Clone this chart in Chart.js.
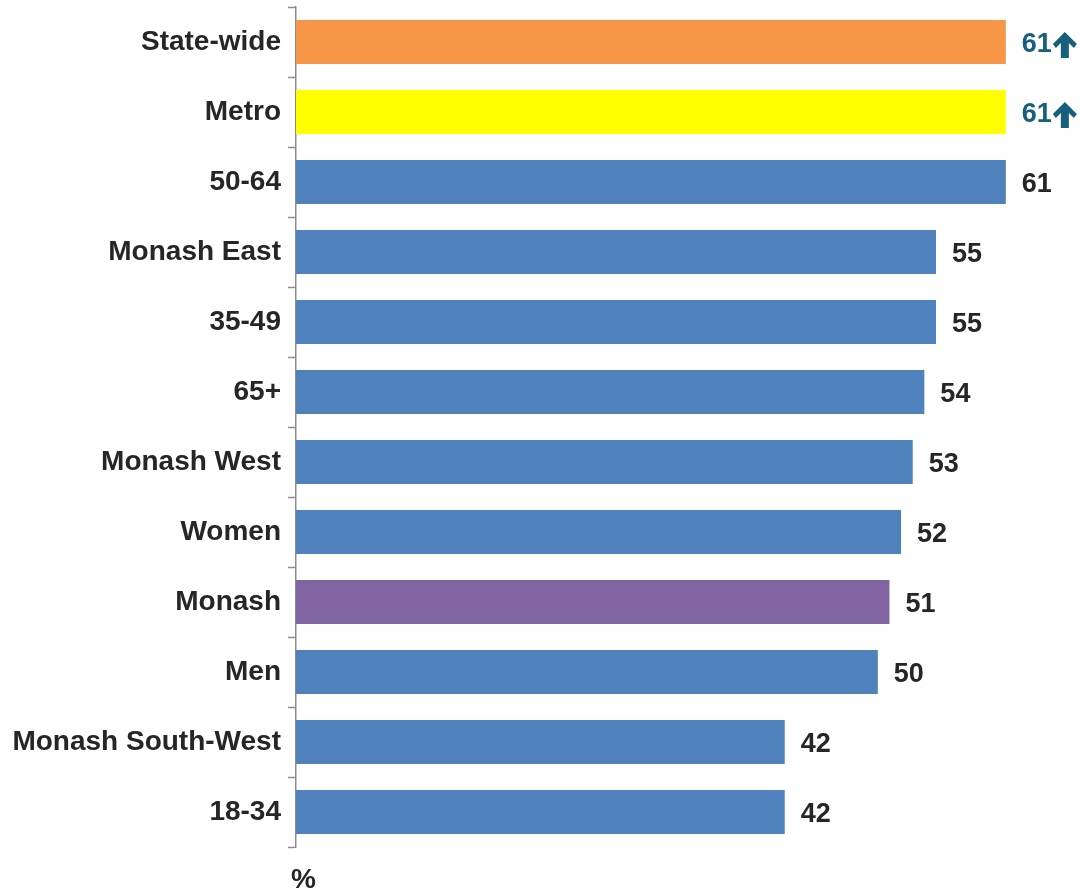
<!DOCTYPE html>
<html>
<head>
<meta charset="utf-8">
<script src="https://cdn.jsdelivr.net/npm/chart.js@4/dist/chart.umd.min.js"></script>
<style>
  html, body { margin: 0; padding: 0; background: #fff; }
  #wrap { width: 1080px; height: 891px; position: relative; }
</style>
</head>
<body>
<div id="wrap"><canvas id="chart"></canvas></div>
<script>
// categories top to bottom, with % values
const categories = ['State-wide', 'Metro', '50-64', 'Monash East', '35-49', '65+', 'Monash West', 'Women', 'Monash', 'Men', 'Monash South-West', '18-34'];
const values = [61, 61, 61, 55, 55, 54, 53, 52, 51, 50, 42, 42];
const barColors = ['#F79646', '#FFFF00', '#4F81BD', '#4F81BD', '#4F81BD', '#4F81BD', '#4F81BD', '#4F81BD', '#8064A2', '#4F81BD', '#4F81BD', '#4F81BD'];
// rows flagged as significantly higher (drawn teal with an up arrow)
const higher = [true, true, false, false, false, false, false, false, false, false, false, false];

const FONT = '"Liberation Sans", Arial, sans-serif';
const TEXT = '#262626';
const TEAL = '#17607D';

function upArrow(ctx, cx, top) {
  ctx.beginPath();
  ctx.moveTo(cx, top);
  ctx.lineTo(cx + 12, top + 12);
  ctx.lineTo(cx + 9, top + 16);
  ctx.lineTo(cx + 4, top + 11);
  ctx.lineTo(cx + 4, top + 26);
  ctx.lineTo(cx - 4, top + 26);
  ctx.lineTo(cx - 4, top + 11);
  ctx.lineTo(cx - 9, top + 16);
  ctx.lineTo(cx - 12, top + 12);
  ctx.closePath();
  ctx.fill();
}

const valueLabels = {
  id: 'valueLabels',
  afterDatasetsDraw(chart) {
    const ctx = chart.ctx;
    const meta = chart.getDatasetMeta(0);
    ctx.save();
    ctx.font = 'bold 27px ' + FONT;
    ctx.textBaseline = 'middle';
    ctx.textAlign = 'left';
    meta.data.forEach((bar, i) => {
      const txt = String(values[i]);
      const x = bar.x + 16;
      const y = bar.y + 3;
      ctx.fillStyle = higher[i] ? TEAL : TEXT;
      ctx.fillText(txt, x, y);
      if (higher[i]) {
        const ax = x + ctx.measureText(txt).width + 13;
        upArrow(ctx, ax, bar.y - 10);
      }
    });
    // unit label under the axis
    ctx.fillStyle = TEXT;
    ctx.font = 'bold 28px ' + FONT;
    ctx.textBaseline = 'alphabetic';
    ctx.fillText('%', chart.chartArea.left - 5, 888);
    ctx.restore();
  }
};

new Chart(document.getElementById('chart'), {
  type: 'bar',
  data: {
    labels: categories,
    datasets: [{
      data: values,
      backgroundColor: barColors,
      borderWidth: 0,
      barPercentage: 0.63,
      categoryPercentage: 1.0
    }]
  },
  options: {
    indexAxis: 'y',
    responsive: true,
    maintainAspectRatio: false,
    animation: false,
    layout: { padding: { top: 7, bottom: 44, right: 16, left: 0 } },
    plugins: {
      legend: { display: false },
      tooltip: { enabled: false }
    },
    scales: {
      x: {
        display: false,
        min: 0,
        max: 66
      },
      y: {
        offset: true,
        afterFit(scale) {
          scale.width = 296;
          scale.paddingTop = 0;
          scale.paddingBottom = 0;
        },
        grid: {
          offset: true,
          drawOnChartArea: false,
          tickLength: 8,
          tickColor: '#8C8C8C',
          tickWidth: 1.5
        },
        border: { color: '#8C8C8C', width: 1.5 },
        ticks: {
          color: TEXT,
          padding: 7,
          font: { family: FONT, size: 28, weight: 'bold' }
        }
      }
    }
  },
  plugins: [valueLabels]
});
</script>
</body>
</html>
